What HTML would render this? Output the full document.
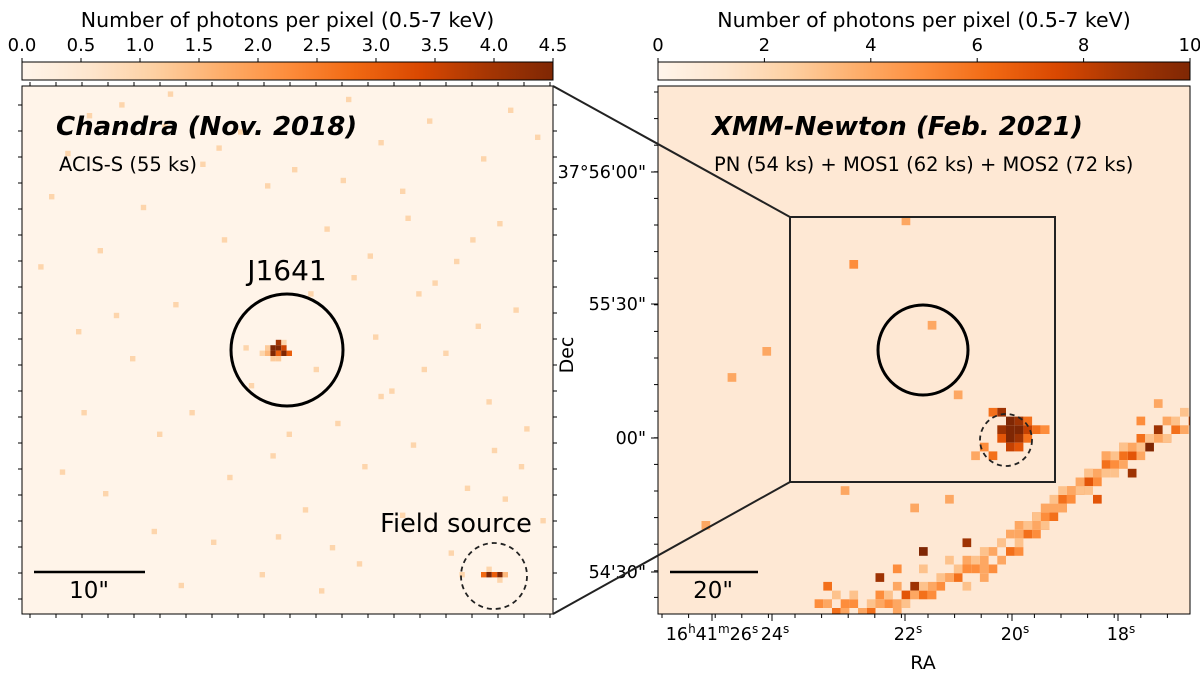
<!DOCTYPE html>
<html><head><meta charset="utf-8"><style>
body{margin:0;background:#fff;}
svg{display:block;font-family:"DejaVu Sans","Liberation Sans",sans-serif;}
</style></head><body>
<svg id="fig" width="1200" height="682" viewBox="0 0 1200 682">
<defs>
<linearGradient id="oranges" x1="0" x2="1" y1="0" y2="0">
<stop offset="0" stop-color="#fff5eb"/><stop offset="0.125" stop-color="#fee6ce"/><stop offset="0.25" stop-color="#fdd0a2"/><stop offset="0.375" stop-color="#fdae6b"/><stop offset="0.5" stop-color="#fd8d3c"/><stop offset="0.625" stop-color="#f16913"/><stop offset="0.75" stop-color="#d94801"/><stop offset="0.875" stop-color="#a63603"/><stop offset="1" stop-color="#7f2704"/>
</linearGradient>
<clipPath id="clipL"><rect x="22" y="86" width="531" height="528"/></clipPath>
<clipPath id="clipR"><rect x="658" y="86" width="532" height="528"/></clipPath>
</defs>
<g id="cbL"></g>
<g id="cbR"></g>
<g id="panelL" clip-path="url(#clipL)"></g>
<g id="panelR" clip-path="url(#clipR)"></g>
<g id="over"></g>
</svg>
<script>
const NS="http://www.w3.org/2000/svg";
// colorbar data
const cbLTicks=[0.0,0.5,1.0,1.5,2.0,2.5,3.0,3.5,4.0,4.5];
const cbLMax=4.5;
const cbRTicks=[0,2,4,6,8,10];
const cbRMax=10;
// Chandra: sparse counts (cells ~5.4px)
const chandraCols=[18,27,60,12,40,75,90,8,33,50,66,85,95,5,22,45,70,88,14,37,56,80,28,61,73,91,10,48,65,84,20,54,78,42,68,31,86,58,25,72,93,46,63,38,15,82,52,70,96,24,35,57,79,62,44,29,89,66,11,76,53,41,83,92,71,49,3,17,36,59,74,87,7,47,64,81,26,55];
const chandraRows=[3,1,2,5,8,6,4,12,14,15,10,13,9,20,22,18,19,25,30,28,26,32,40,35,38,41,45,47,46,44,50,52,49,55,56,60,58,62,64,66,63,68,70,72,75,74,78,79,80,82,84,85,86,88,90,92,76,57,60,36,38,48,28,70,24,64,33,42,11,17,52,67,71,83,31,90,7,93];
const chandraVals=[1,1,1,1,1,1,1,1,1,1,1,1,1,1,1,1,1,1,1,1,1,1,1,1,1,1,1,1,1,1,1,1,1,1,1,1,1,1,1,1,1,1,1,1,1,1,1,1,1,1,1,1,1,1,1,1,1,1,1,1,1,1,1,1,1,1,1,1,1,1,1,1,1,1,1,1,1,1];
const j1641Cols=[45,46,47,48,45,46,47,48,49,46,47,44,47];
const j1641Rows=[48,48,48,48,49,49,49,49,49,50,50,49,47];
const j1641Vals=[1.2,4.5,4.5,3.5,1.5,4.5,3.0,4.5,3.0,1.2,1.2,1.0,4.0];
const fieldCols=[85,86,87,88,89,86,88];
const fieldRows=[90,90,90,90,90,89,91];
const fieldVals=[2.8,4.5,3.0,4.5,1.5,1.0,1.0];
// XMM: bright cells (cells ~8.7px, 0..10 scale)
const xmmCols=[38,39,40,41,42,39,40,41,42,39,40,41,42,40,41,37,43,44,38,36,
 61,59,58,57,56,55,54,53,52,51,50,49,48,47,46,45,44,43,42,41,40,39,38,36,34,32,30,28,26,24,22,20,
 57,55,53,51,49,47,45,43,41,39,37,35,33,31,29,27,25,23,21,19,
 56,54,50,46,44,35,30,27,25,19,18,29,33,37,12,8,5,21,34,22,28,31,
 60,60,59,58,58,57,56,55,55,54,53,53,52,51,51,50,49,48,48,47,46,46,45,44,43,43,42,41,41,40,39,38,37,37,36,35,34,33,32,31,30,29,28,27,26,25,24,23,22,21,20,19,30,33,27,24,35,44,49,52];
const xmmRows=[37,37,38,38,38,39,39,39,39,40,40,40,40,41,41,41,39,39,42,42,
 38,39,40,39,41,40,42,42,43,43,45,45,46,47,48,49,50,51,51,53,53,54,55,55,56,57,58,58,59,60,59,60,
 36,38,41,42,44,46,48,49,51,52,54,55,56,58,57,59,58,60,59,61,
 41,44,47,47,49,52,53,55,56,57,59,48,47,56,30,33,50,46,35,20,15,27,
 37,39,38,38,40,40,40,42,41,41,41,43,42,42,44,44,44,45,46,46,46,48,47,48,49,50,50,50,52,51,52,53,53,55,54,54,55,56,56,57,57,58,59,57,58,59,59,60,58,60,58,59,55,54,60,61,57,50,46,44];
const xmmVals=[6,9,10,9,6,9,10,10,8,7,10,9,6,8,7,5,6,5,6,4,
 7,6,6,9,5,6,7,6,5,6,5,7,6,5,5,6,7,5,6,5,6,4,5,5,6,5,6,7,5,6,5,6,
 4,5,4,5,4,5,4,5,4,5,4,5,4,5,9,4,5,4,5,4,
 10,9,7,6,5,9,10,5,9,6,5,4,4,4,4,4,4,4,4,5,4,4,
 3,4,3,4,3,4,3,4,3,4,3,4,3,4,3,4,3,4,3,4,3,4,3,4,3,4,3,4,3,4,3,4,3,4,3,4,3,4,3,4,3,4,3,4,3,4,3,4,3,4,3,4,3,3,4,3,3,3,3,3];
// axis tick labels
const decLabels=["37°56'00\"","55'30\"","00\"","54'30\""];
const decY=[172,304,438,572];
const raLabels=["24","22","20","18"];
const raX=[772,905,1012,1118];

const stops=[[255,245,235],[254,230,206],[253,208,162],[253,174,107],[253,141,60],[241,105,19],[217,72,1],[166,54,3],[127,39,4]];
function cmap(t){t=Math.max(0,Math.min(1,t));const p=t*8,i=Math.min(7,Math.floor(p)),f=p-i;const a=stops[i],b=stops[i+1];return `rgb(${a.map((v,k)=>Math.round(v+(b[k]-v)*f)).join(',')})`;}
function el(tag,attrs,parent,text){const e=document.createElementNS(NS,tag);for(const k in attrs)e.setAttribute(k,attrs[k]);if(text!==undefined)e.textContent=text;parent.appendChild(e);return e;}

function colorbar(g,x0,w,ticks,max,fmt){
  el('text',{x:x0+w/2,y:27,'text-anchor':'middle','font-size':20.5,fill:'#000'},g,'Number of photons per pixel (0.5-7 keV)');
  const r=el('rect',{x:x0,y:62,width:w,height:18,fill:'url(#oranges)',stroke:'#000','stroke-width':1},g);
  
  ticks.forEach(t=>{const x=x0+w*t/max;
    el('line',{x1:x,x2:x,y1:58,y2:62,stroke:'#000'},g);
    const tx=el('text',{x:x,y:51,'text-anchor':'middle','font-size':18,fill:'#000'},g,fmt(t));
    
    
  });
}
colorbar(document.getElementById('cbL'),22,531,cbLTicks,cbLMax,t=>t.toFixed(1));
colorbar(document.getElementById('cbR'),658,532,cbRTicks,cbRMax,t=>String(t));

// Left panel
const pL=document.getElementById('panelL');
el('rect',{x:22,y:86,width:531,height:528,fill:'#fff4e9'},pL);
const cL=5.4;
function drawL(cols,rows,vals,name){cols.forEach((c,i)=>{const r=el('rect',{x:22+c*cL,y:86+rows[i]*cL,width:cL,height:cL,fill:cmap(vals[i]/cbLMax)},pL);
  });}
drawL(chandraCols,chandraRows,chandraVals,'chandra-pixel');
drawL(j1641Cols,j1641Rows,j1641Vals,'j1641-pixel');
drawL(fieldCols,fieldRows,fieldVals,'field-source-pixel');

// Right panel
const pR=document.getElementById('panelR');
el('rect',{x:658,y:86,width:532,height:528,fill:'#fee8d4'},pR);
const cR=8.7;
xmmCols.forEach((c,i)=>{const r=el('rect',{x:658+c*cR,y:86+xmmRows[i]*cR,width:cR,height:cR,fill:cmap(xmmVals[i]/cbRMax)},pR);
  });

const o=document.getElementById('over');
el('rect',{x:22,y:86,width:531,height:528,fill:'none',stroke:'#000','stroke-width':1},o);
el('rect',{x:658,y:86,width:532,height:528,fill:'none',stroke:'#000','stroke-width':1},o);
for(let x=30;x<553;x+=26){el('line',{x1:x,x2:x,y1:614,y2:618,stroke:'#000'},o);el('line',{x1:x,x2:x,y1:86,y2:82,stroke:'#000'},o);}
for(let y=105;y<614;y+=26){el('line',{x1:22,x2:18,y1:y,y2:y,stroke:'#000'},o);el('line',{x1:553,x2:557,y1:y,y2:y,stroke:'#000'},o);}
for(let y=92;y<614;y+=26.6){el('line',{x1:658,x2:654,y1:y,y2:y,stroke:'#000'},o);}
for(let x=662;x<1190;x+=26.6){el('line',{x1:x,x2:x,y1:614,y2:618,stroke:'#000'},o);}
decLabels.forEach((t,i)=>{el('line',{x1:658,x2:651,y1:decY[i],y2:decY[i],stroke:'#000'},o);
  const tx=el('text',{x:646,y:decY[i]+6,'text-anchor':'end','font-size':17.5},o,t);
  });
el('line',{x1:712,x2:712,y1:614,y2:621,stroke:'#000'},o);
const t0=el('text',{x:712,y:640,'text-anchor':'middle','font-size':17.5},o);
t0.innerHTML='16<tspan dy="-7" font-size="12">h</tspan><tspan dy="7">41</tspan><tspan dy="-7" font-size="12">m</tspan><tspan dy="7">26</tspan><tspan dy="-7" font-size="12">s</tspan>';

raLabels.forEach((t,i)=>{el('line',{x1:raX[i],x2:raX[i],y1:614,y2:621,stroke:'#000'},o);
  const tx=el('text',{x:raX[i]+3,y:640,'text-anchor':'middle','font-size':17.5},o);
  tx.innerHTML=t+'<tspan dy="-7" font-size="12">s</tspan>';
  });
const ra=el('text',{x:923,y:669,'text-anchor':'middle','font-size':19},o,'RA');

const dec=el('text',{x:573,y:355,'text-anchor':'middle','font-size':19,transform:'rotate(-90 573 355)'},o,'Dec');

el('rect',{x:790,y:217,width:265,height:265,fill:'none',stroke:'#222','stroke-width':2},o);
el('line',{x1:553,y1:86,x2:790,y2:217,stroke:'#222','stroke-width':2},o);
el('line',{x1:553,y1:614,x2:790,y2:482,stroke:'#222','stroke-width':2},o);
el('circle',{cx:287,cy:350,r:56,fill:'none',stroke:'#000','stroke-width':3},o);
el('circle',{cx:494,cy:576,r:33,fill:'none',stroke:'#222','stroke-width':1.8,'stroke-dasharray':'5 4'},o);
el('circle',{cx:923,cy:350,r:45,fill:'none',stroke:'#000','stroke-width':3},o);
el('circle',{cx:1006,cy:440,r:26,fill:'none',stroke:'#222','stroke-width':1.8,'stroke-dasharray':'5 4'},o);
el('text',{x:287,y:280,'text-anchor':'middle','font-size':28},o,'J1641');
el('text',{x:456,y:532,'text-anchor':'middle','font-size':25.5},o,'Field source');
el('text',{x:56,y:135,'font-size':26,'font-weight':'bold','font-style':'italic'},o,'Chandra (Nov. 2018)');
el('text',{x:59,y:171,'font-size':19.5},o,'ACIS-S (55 ks)');
el('text',{x:712,y:135,'font-size':26,'font-weight':'bold','font-style':'italic'},o,'XMM-Newton (Feb. 2021)');
el('text',{x:714,y:171,'font-size':19.5},o,'PN (54 ks) + MOS1 (62 ks) + MOS2 (72 ks)');
el('line',{x1:34,x2:145,y1:572,y2:572,stroke:'#000','stroke-width':2.5},o);
el('text',{x:89,y:598,'text-anchor':'middle','font-size':23},o,'10"');
el('line',{x1:670,x2:758,y1:572,y2:572,stroke:'#000','stroke-width':2.5},o);
el('text',{x:713,y:598,'text-anchor':'middle','font-size':23},o,'20"');
</script>
</body></html>
